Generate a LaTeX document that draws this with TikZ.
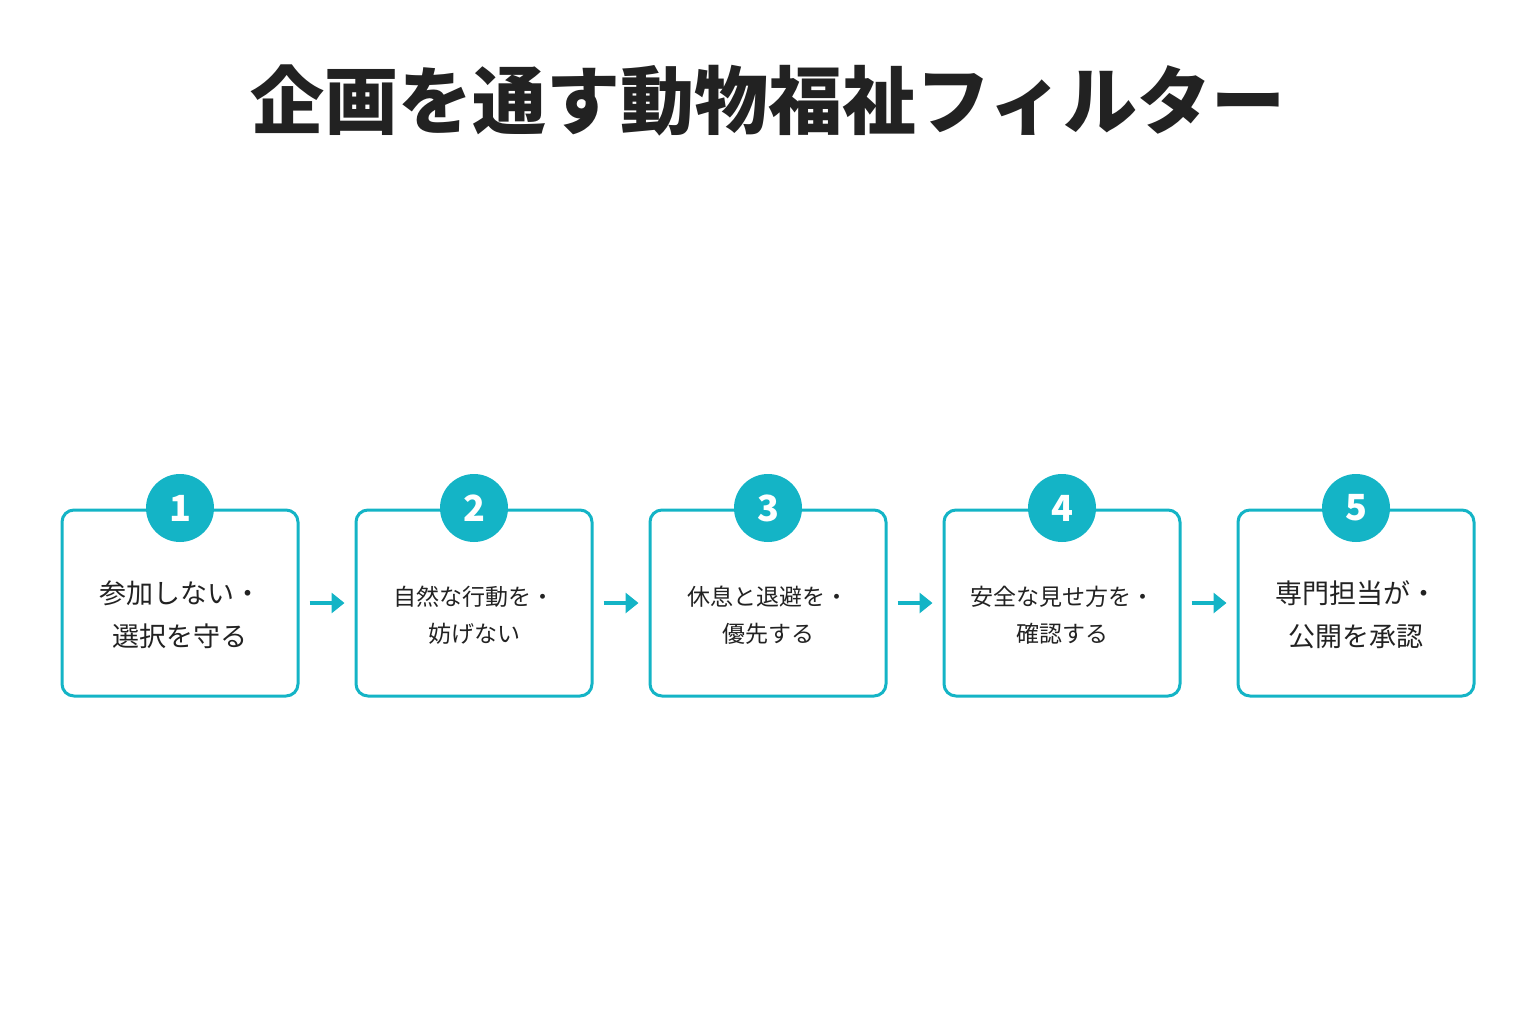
\documentclass[tikz,border=0pt]{standalone}
\usepackage{fontspec}
\setmainfont{Noto Sans CJK JP}
\usetikzlibrary{arrows.meta}
\definecolor{teal}{HTML}{14B4C6}
\definecolor{ink}{HTML}{222222}
\begin{document}
\begin{tikzpicture}[x=1pt,y=-1pt,
 box/.style={draw=teal,line width=3pt,rounded corners=12pt,minimum width=236pt,minimum height=186pt,fill=white},
 num/.style={circle,fill=teal,minimum size=68pt,inner sep=0pt,text=white,font=\fontsize{36}{36}\selectfont\bfseries},
 big/.style={text=ink,align=center,font=\fontsize{27}{43}\selectfont},
 small/.style={text=ink,align=center,font=\fontsize{23}{37}\selectfont},
 arr/.style={draw=teal,line width=3.5pt,-{Triangle[length=13pt,width=20pt]}}]
\useasboundingbox (0,0) rectangle (1536,1024);
\node[text=ink,font=\fontsize{74}{74}\selectfont\bfseries] (title) at (768,100) {企画を通す動物福祉フィルター};
\foreach \i/\x in {1/180,2/474,3/768,4/1062,5/1356}{
  \node[box] (b\i) at (\x,603) {};
  \node[num] (n\i) at (\x,508) {\i};
}
\node[big] (t1) at (180,615) {参加しない・\\選択を守る};
\node[small] (t2) at (474,615) {自然な行動を・\\妨げない};
\node[small] (t3) at (768,615) {休息と退避を・\\優先する};
\node[small] (t4) at (1062,615) {安全な見せ方を・\\確認する};
\node[big] (t5) at (1356,615) {専門担当が・\\公開を承認};
\foreach \a/\b in {1/2,2/3,3/4,4/5}{
  \draw[arr] ([xshift=10pt]b\a.east) -- ([xshift=-10pt]b\b.west);
}
\end{tikzpicture}
\end{document}
